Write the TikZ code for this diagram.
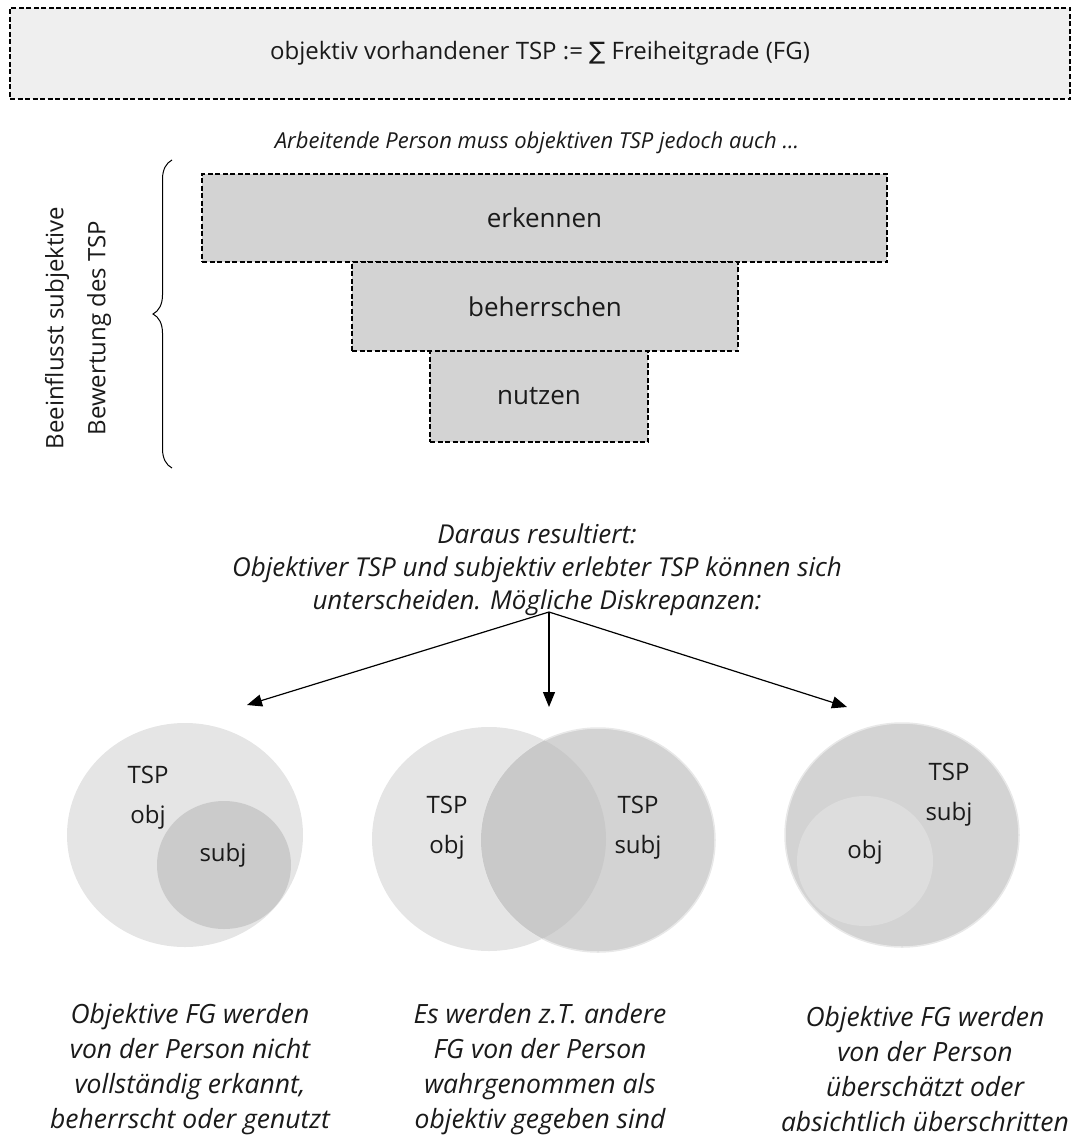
\documentclass[tikz,border=0pt]{standalone}
\usepackage{fontspec}
\setmainfont{Open Sans}
\newfontfamily\sumglyph{DejaVu Sans}
\usetikzlibrary{positioning,arrows.meta,decorations.pathreplacing}
\definecolor{ink}{HTML}{1A1A1A}
\definecolor{topfill}{HTML}{EFEFEF}
\definecolor{tierfill}{HTML}{D3D3D3}
\definecolor{objfill}{HTML}{E5E5E5}
\definecolor{subjfill}{HTML}{D3D3D3}
\definecolor{bothfill}{HTML}{C9C9C9}
\definecolor{innerdark}{HTML}{CBCBCB}
\definecolor{innerlight}{HTML}{DDDDDD}
\definecolor{rim}{HTML}{E8E8E8}
\newcommand{\Head}{\fontsize{24}{30}\selectfont}
\newcommand{\Tier}{\fontsize{26}{30}\selectfont}
\newcommand{\Note}{\fontsize{26.5}{35}\selectfont}
\newcommand{\Lbl}{\fontsize{24}{40}\selectfont}

\begin{document}
\begin{tikzpicture}[x=1pt,y=-1pt, font=\Head, text=ink,
    dashbox/.style={draw=black, line width=1.4pt, dash pattern=on 5pt off 2.5pt, inner sep=0pt},
    tierbox/.style={dashbox, fill=tierfill, font=\Tier},
    arr/.style={line width=1.2pt, -{Triangle[length=15pt,width=12pt]}},
    note/.style={align=center, font=\Note\itshape},
    lbl/.style={align=center, font=\Lbl}]
  \useasboundingbox (0,0) rectangle (1072,1145);
  % top statement
  \node[dashbox, fill=topfill, minimum width=1060, minimum height=91] (tsp) at (540,53.5)
    {objektiv vorhandener TSP := {\sumglyph ∑} Freiheitgrade (FG)};
  \node[align=center, font=\fontsize{22}{30}\selectfont\itshape] (intro) at (537,143)
    {Arbeitende Person muss objektiven TSP jedoch auch ...};
  % tiers
  \node[tierbox, minimum width=685, minimum height=88] (erk) at (544.5,218) {erkennen};
  \node[tierbox, minimum width=386, minimum height=89] (beh) at (545,306.5) {beherrschen};
  \node[tierbox, minimum width=218, minimum height=91] (nutz) at (539,396.5) {nutzen};
  \coordinate (bracetop) at (172,160);
  \coordinate (bracebot) at (172,468);
  \draw[line width=1pt, decorate, decoration={brace, amplitude=19pt}] (bracebot) -- (bracetop);
  \node[rotate=90, align=center, font=\fontsize{24}{42}\selectfont] (infl) at (78,328)
    {Beeinflusst subjektive\\Bewertung des TSP};
  % result
  \node[align=center, font=\fontsize{26}{33}\selectfont\itshape] (res) at (537,570)
    {Daraus resultiert:\\Objektiver TSP und subjektiv erlebter TSP können sich\\unterscheiden. Mögliche Diskrepanzen:};
  \coordinate (fork) at (549,612);
  \coordinate (tipa) at (247,705);
  \coordinate (tipb) at (549,707);
  \coordinate (tipc) at (847,707);
  \foreach \t in {tipa,tipb,tipc}{\draw[arr] (fork) -- (\t);}
  % case 1: subj inside obj
  \fill[objfill] (185,835) ellipse [x radius=118, y radius=112];
  \fill[innerdark] (224,865) ellipse [x radius=67, y radius=64];
  % case 2: partial overlap
  \fill[objfill] (489,839) ellipse [x radius=117, y radius=112];
  \filldraw[fill=subjfill, draw=rim, line width=1.5pt] (598,840) ellipse [x radius=117, y radius=112];
  \begin{scope}
    \clip (489,839) ellipse [x radius=117, y radius=112];
    \fill[bothfill] (598,840) ellipse [x radius=117, y radius=112];
  \end{scope}
  % case 3: obj inside subj
  \filldraw[fill=subjfill, draw=rim, line width=1.5pt] (902,835) ellipse [x radius=117, y radius=112];
  \fill[innerlight] (865,861) ellipse [x radius=68, y radius=65];
  % labels
  \node[lbl] (aobj) at (148,798) {TSP\\obj};
  \node[lbl] (asubj) at (223,855) {subj};
  \node[lbl] (bobj) at (447,828) {TSP\\obj};
  \node[lbl] (bsubj) at (638,828) {TSP\\subj};
  \node[lbl] (csubj) at (949,795) {TSP\\subj};
  \node[lbl] (cobj) at (865,852) {obj};
  \node[note] (ca) at (190,1069) {Objektive FG werden\\von der Person nicht\\vollständig erkannt,\\beherrscht oder genutzt};
  \node[note] (cb) at (540,1069) {Es werden z.T. andere\\FG von der Person\\wahrgenommen als\\objektiv gegeben sind};
  \node[note] (cc) at (925,1069) {Objektive FG werden\\von der Person\\überschätzt oder\\absichtlich überschritten};
\end{tikzpicture}
\end{document}
